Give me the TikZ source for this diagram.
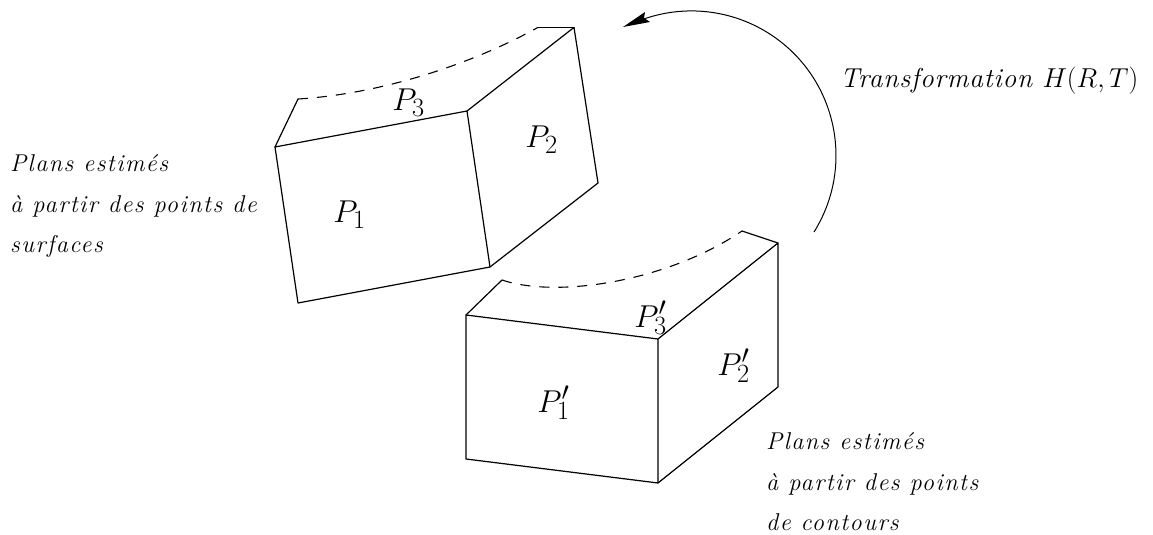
\documentclass[tikz,border=0pt]{standalone}
\usepackage{fontspec}
\setmainfont{Latin Modern Roman}
\newfontfamily\notefont[ItalicFont={Latin Modern Roman/I},LetterSpace=6]{Latin Modern Roman}
\newfontfamily\titlefont[ItalicFont={Latin Modern Roman/I},LetterSpace=3]{Latin Modern Roman}
\begin{document}
\begin{tikzpicture}[x=1pt,y=-1pt,
  edge/.style={line width=1.2pt,line join=round,line cap=round},
  hidden/.style={line width=1.1pt,dash pattern=on 10pt off 9pt},
  note/.style={anchor=base west,inner sep=0pt,font=\fontsize{24.3}{25}\selectfont\notefont\itshape},
  title/.style={anchor=base west,inner sep=0pt,scale=1.1,font=\fontsize{24.88}{25}\selectfont\titlefont\itshape},
  plane/.style={anchor=base west,inner sep=0pt,scale=1.27,font=\fontsize{24.88}{25}\selectfont}]
\useasboundingbox (0,0) rectangle (1153,535);
\coordinate (a1) at (275,147); \coordinate (b1) at (467,111);
\coordinate (c1) at (490,267); \coordinate (d1) at (298,303);
\coordinate (e1) at (598,183); \coordinate (f1) at (574,27.4);
\coordinate (g1) at (298,99); \coordinate (h1) at (538,27.4);
\coordinate (a2) at (466,315); \coordinate (b2) at (658,339);
\coordinate (c2) at (658,483); \coordinate (d2) at (466,459);
\coordinate (e2) at (778,387); \coordinate (f2) at (778,243);
\coordinate (g2) at (502,280); \coordinate (h2) at (742,231);
\coordinate (arcs) at (814,232);
\coordinate (tip) at (623,27); \coordinate (barbA) at (645,12);
\coordinate (notch) at (644,18); \coordinate (barbB) at (650,22);
\draw[edge] (a1) -- (b1) -- (c1) -- (d1) -- cycle;
\draw[edge] (b1) -- (f1) -- (e1) -- (c1);
\draw[edge] (a1) -- (g1);
\draw[edge] (h1) -- (f1);
\draw[hidden] (g1) .. controls (380,94) and (470,65) .. (h1);
\draw[edge] (a2) -- (b2) -- (c2) -- (d2) -- cycle;
\draw[edge] (b2) -- (f2) -- (e2) -- (c2);
\draw[edge] (a2) -- (g2);
\draw[edge] (h2) -- (f2);
\draw[hidden] (g2) .. controls (555,298) and (665,283) .. (h2);
\draw[line width=1pt] (arcs) arc[start angle=-32,end angle=109,radius=144.5pt];
\fill (tip) -- (barbA) -- (notch) -- (barbB) -- cycle;
\node[plane] (p1) at (333,222) {$P_1$};
\node[plane] (p2) at (525,147) {$P_2$};
\node[plane] (p3) at (392,110) {$P_3$};
\node[plane] (q1) at (537,412) {$P'_1$};
\node[plane] (q2) at (717,375) {$P'_2$};
\node[plane] (q3) at (634,327) {$P'_3$};
\node[note] (t1) at (10,171) {Plans estimés};
\node[note] (t2) at (10,212) {à partir des points de};
\node[note] (t3) at (10,252) {surfaces};
\node[note] (t4) at (766,449) {Plans estimés};
\node[note] (t5) at (766,490) {à partir des points};
\node[note] (t6) at (766,530) {de contours};
\node[title] (t7) at (840,87) {Transformation $H(R,T)$};
\end{tikzpicture}
\end{document}
